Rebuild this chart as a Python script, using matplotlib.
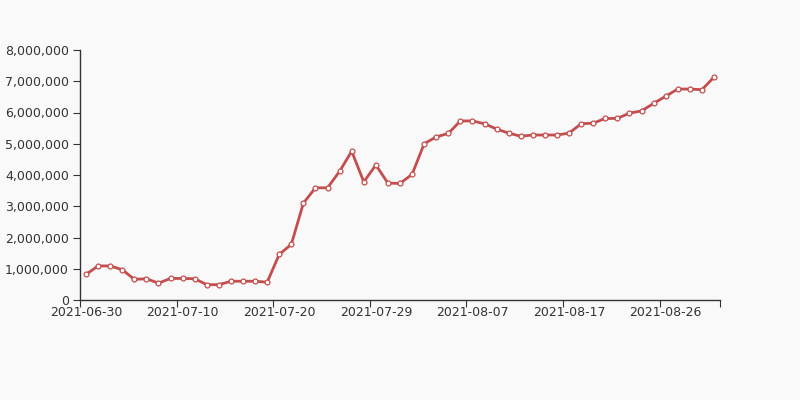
import matplotlib
matplotlib.use("Agg")
import matplotlib.pyplot as plt
from matplotlib.ticker import FuncFormatter, FixedLocator

dates = [
    "2021-06-30", "2021-07-01", "2021-07-02", "2021-07-03", "2021-07-05",
    "2021-07-06", "2021-07-07", "2021-07-08", "2021-07-10", "2021-07-11",
    "2021-07-12", "2021-07-13", "2021-07-15", "2021-07-16", "2021-07-17",
    "2021-07-18", "2021-07-20", "2021-07-21", "2021-07-22", "2021-07-23",
    "2021-07-24", "2021-07-25", "2021-07-26", "2021-07-28", "2021-07-29",
    "2021-07-30", "2021-07-31", "2021-08-01", "2021-08-02", "2021-08-03",
    "2021-08-04", "2021-08-06", "2021-08-07", "2021-08-08", "2021-08-09",
    "2021-08-10", "2021-08-11", "2021-08-13", "2021-08-14", "2021-08-15",
    "2021-08-17", "2021-08-18", "2021-08-19", "2021-08-20", "2021-08-21",
    "2021-08-22", "2021-08-23", "2021-08-25", "2021-08-26", "2021-08-27",
    "2021-08-28", "2021-08-29", "2021-08-30",
]

values = [
    820000, 1090000, 1090000, 970000, 660000, 680000, 540000, 690000, 690000, 680000,
    490000, 490000, 600000, 600000, 600000, 570000, 1460000, 1780000, 3100000, 3590000,
    3590000, 4120000, 4760000, 3780000, 4320000, 3740000, 3730000, 4020000, 5000000, 5220000,
    5330000, 5730000, 5730000, 5640000, 5470000, 5340000, 5240000, 5280000, 5280000, 5280000,
    5340000, 5640000, 5660000, 5810000, 5810000, 5980000, 6050000, 6290000, 6520000, 6750000,
    6750000, 6730000, 7130000,
]

bg = "#f9f9f9"
line_color = "#c44d4d"
axis_color = "#333333"

fig = plt.figure(figsize=(8, 4), dpi=100, facecolor=bg)
ax = fig.add_axes([0.1, 0.25, 0.8, 0.625], facecolor=bg)

x = list(range(len(values)))
ax.plot(x, values, color=line_color, linewidth=2, marker="o", markersize=3.5,
        markerfacecolor="white", markeredgecolor=line_color, markeredgewidth=0.9, zorder=3)

ax.set_xlim(-0.5, len(values) - 0.5)
ax.set_ylim(0, 8000000)

# category axis: ticks on band edges, labels on band centres
step = 8
edges = [i - 0.5 for i in range(0, len(values), step)] + [len(values) - 0.5]
ax.xaxis.set_major_locator(FixedLocator(edges))
ax.xaxis.set_major_formatter(FuncFormatter(lambda v, p: ""))
centres = list(range(0, len(values), step))
ax.xaxis.set_minor_locator(FixedLocator(centres))
ax.set_xticklabels([dates[i] for i in centres], minor=True)
ax.tick_params(axis="x", which="major", length=5, color=axis_color, direction="out")
ax.tick_params(axis="x", which="minor", length=0, labelsize=9, labelcolor=axis_color, pad=4)

ax.set_yticks(range(0, 8000001, 1000000))
ax.yaxis.set_major_formatter(FuncFormatter(lambda v, p: f"{int(v):,}"))
ax.tick_params(axis="y", length=5, color=axis_color, labelsize=9, labelcolor=axis_color, pad=3)

for side in ["top", "right"]:
    ax.spines[side].set_visible(False)
for side in ["left", "bottom"]:
    ax.spines[side].set_color(axis_color)
    ax.spines[side].set_linewidth(1)

fig.savefig("out.png", dpi=100, facecolor=bg)
